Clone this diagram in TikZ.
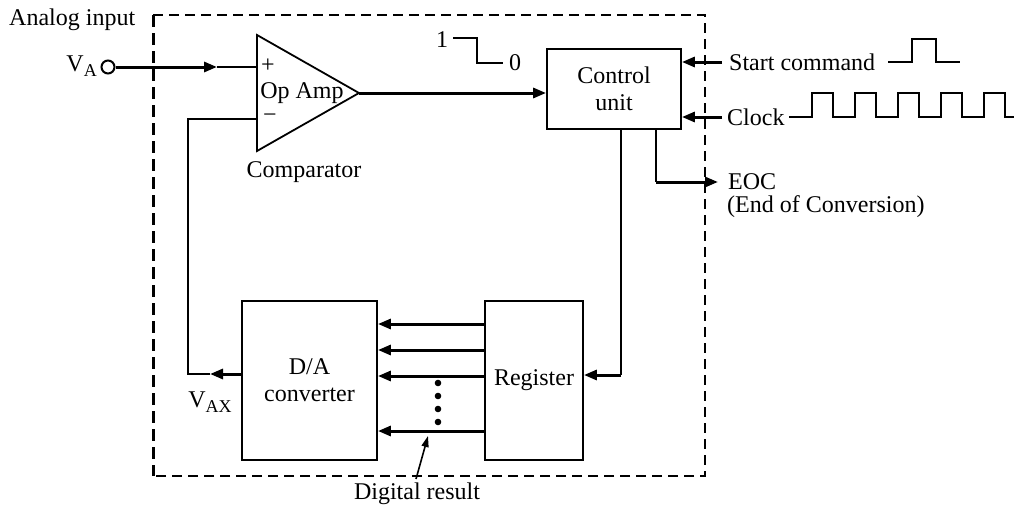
\documentclass[tikz,border=0pt]{standalone}
\usepackage{fontspec}
\setmainfont{Liberation Serif}
\usetikzlibrary{arrows.meta}
\newcommand\subtxt[1]{\raisebox{-0.5ex}{\fontsize{18}{18}\selectfont #1}}
\begin{document}
\begin{tikzpicture}[x=1pt,y=-1pt, font=\fontsize{24}{27}\selectfont,
  box/.style={draw, line width=1.8pt, inner sep=0pt},
  lbl/.style={inner sep=0pt},
  wire/.style={line width=1.6pt},
  heavy/.style={line width=3pt, -{Triangle[length=13pt,width=10pt]}},
]
\useasboundingbox (0,0) rectangle (1016,506);

% dashed enclosure
\draw[line width=2pt, dash pattern=on 10pt off 6pt] (153,15) -- (705,15) -- (705,476) -- (153,476);
\draw[line width=3pt, dash pattern=on 12pt off 6pt] (153,15) -- (153,476);
\node[lbl, anchor=west] (ai) at (9,20) {Analog input};

% blocks
\node[box, minimum width=134pt, minimum height=80pt, align=center] (ctrl) at (614,89) {Control\\unit};
\node[box, minimum width=135pt, minimum height=159pt, align=center] (da) at (309.5,380.5) {D/A\\converter};
\node[box, minimum width=98pt, minimum height=159pt] (reg) at (534,380.5) {Register};

% op amp
\coordinate (oaP) at (257,67);
\coordinate (oaM) at (257,119);
\coordinate (oaO) at (359,93);
\draw[line width=1.8pt, line join=miter] (257,35) -- (oaO) -- (257,151) -- cycle;
\node[lbl] (plus) at (268,66) {+};
\node[lbl] (minus) at (270,118) {−};
\node[lbl] (opamp) at (302,93) {Op Amp};
\node[lbl] (comp) at (304,172) {Comparator};

% analog input
\node[draw, circle, line width=2pt, minimum size=13pt, inner sep=0pt] (vin) at (108,67) {};
\node[lbl, anchor=east] (va) at (97,66) {V\subtxt{A}};
\coordinate (ain) at (217,67);
\draw[wire] (ain) -- (oaP);
\draw[heavy] (vin.east) -- (ain);

% op amp output to control
\draw[heavy] (oaO) -- (oaO -| ctrl.west);

% feedback
\coordinate (fb) at (188,374);
\coordinate (fbtip) at (210,374);
\draw[wire] (oaM) -| (fb) -- (fbtip);
\draw[heavy] (fb -| da.west) -- (fbtip);
\node[lbl] (vax) at (210,402) {V\subtxt{AX}};

% bus
\foreach \yy in {324,350,376,431}
  \draw[heavy] (reg.west |- 0,\yy) -- (da.east |- 0,\yy);
\foreach \yy in {383,396,409,422}
  \fill (438,\yy) circle (3.3pt);
\node[lbl] (dr) at (417,494) {Digital result};
\coordinate (drtail) at (416,479);
\coordinate (drtip) at (428,436);
\draw[line width=1.6pt, -{Triangle[length=11pt,width=7pt]}] (drtail) -- (drtip);

% control to register
\coordinate (rf) at (621,375);
\draw[wire] (rf |- ctrl.south) -- (rf);
\draw[heavy] (rf) -- (rf -| reg.east);

% EOC
\coordinate (eoc) at (656,182);
\coordinate (eoctip) at (718,182);
\draw[wire] (eoc |- ctrl.south) -- (eoc);
\draw[heavy] (eoc) -- (eoctip);
\node[lbl, anchor=west] (eocl) at (728,182) {EOC};
\node[lbl, anchor=west] (eocf) at (727,207) {(End of Conversion)};

% start command
\node[lbl, anchor=west] (st) at (729,62) {Start command};
\coordinate (sttail) at (722,62);
\draw[heavy] (sttail) -- (sttail -| ctrl.east);
\draw[line width=1.8pt] (888,62) -- (912,62) -- (912,39) -- (936,39) -- (936,62) -- (960,62);

% clock
\node[lbl, anchor=west] (clk) at (727,117) {Clock};
\coordinate (clktail) at (722,117);
\draw[heavy] (clktail) -- (clktail -| ctrl.east);
\draw[line width=1.8pt] (789,117) -- (812,117) -- (812,93) -- (833,93) -- (833,117)
  -- (855,117) -- (855,93) -- (876,93) -- (876,117)
  -- (898,117) -- (898,93) -- (919,93) -- (919,117)
  -- (941,117) -- (941,93) -- (962,93) -- (962,117)
  -- (984,117) -- (984,93) -- (1005,93) -- (1005,117) -- (1014,117);

% 1 -> 0 transition
\node[lbl] (one) at (442,40) {1};
\node[lbl] (zero) at (515,63) {0};
\draw[line width=1.6pt] (453,38) -- (477,38) -- (477,63) -- (503,63);
\end{tikzpicture}
\end{document}
